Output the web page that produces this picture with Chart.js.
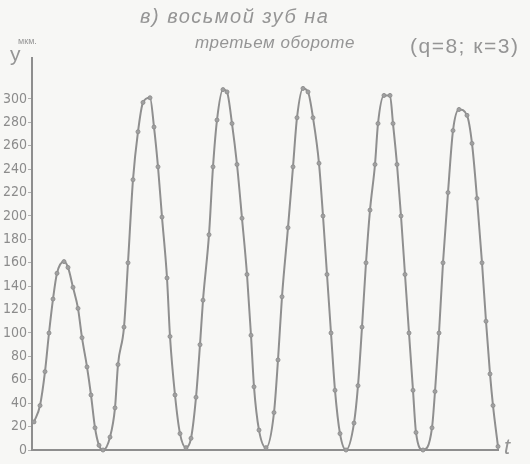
<!DOCTYPE html>
<html>
<head>
<meta charset="utf-8">
<script src="https://cdn.jsdelivr.net/npm/chart.js@4/dist/chart.umd.min.js"></script>
<style>
  body { margin: 0; background: #f7f7f5; }
  #wrap { position: relative; width: 530px; height: 464px; }
  .lbl { position: absolute; color: #959595; font-family: 'Liberation Sans', sans-serif; white-space: nowrap; }
  .hand { font-style: italic; }
</style>
</head>
<body>
<div id="wrap">
  <canvas id="toothChart" width="530" height="464"></canvas>
  <div class="lbl hand" style="left:140px; top:5px; font-size:20px; letter-spacing:1.5px;">в) восьмой зуб на</div>
  <div class="lbl hand" style="left:195px; top:33px; font-size:17px; letter-spacing:0.5px;">третьем обороте</div>
  <div class="lbl" style="left:410px; top:34px; font-size:21px; letter-spacing:1.5px;">(q=8; к=3)</div>
  <div class="lbl" style="left:18px; top:36px; font-size:9px;">мкм.</div>
  <div class="lbl" style="left:10px; top:42px; font-size:21px;">y</div>
  <div class="lbl" style="left:504px; top:434px; font-size:22px; font-style:italic;">t</div>
</div>
<script>
// tooth deviation over time
const tValues = [2, 8, 13, 17, 21, 25, 32, 36, 41, 46, 50, 55, 59, 63, 67, 71, 78, 83, 86, 92,
  96, 101, 106, 111, 118, 122, 126, 130, 135, 138, 143, 148, 154, 159, 164, 168, 171, 177, 181, 185,
  191, 195, 200, 205, 210, 215, 219, 222, 227, 234, 242, 246, 250, 256, 261, 265, 271, 276, 281, 287,
  291, 295, 299, 303, 308, 314, 322, 326, 330, 334, 338, 343, 346, 352, 358, 361, 365, 369, 373, 377,
  381, 384, 391, 400, 403, 407, 411, 416, 421, 427, 435, 440, 445, 450, 454, 458, 461, 466];
const yValues = [24, 38, 67, 100, 129, 151, 161, 156, 139, 121, 96, 71, 47, 19, 4, 0, 11, 36, 73, 105,
  160, 231, 272, 297, 301, 276, 242, 199, 147, 97, 47, 14, 2, 10, 45, 90, 128, 184, 242, 282,
  308, 306, 279, 244, 198, 150, 98, 54, 17, 2, 32, 77, 131, 190, 242, 284, 309, 306, 284, 245,
  200, 150, 100, 51, 14, 0, 23, 55, 105, 160, 205, 244, 279, 303, 303, 279, 244, 200, 150, 100,
  51, 15, 0, 19, 50, 100, 160, 220, 273, 291, 286, 262, 215, 160, 110, 65, 38, 3];
const yTicks = [0, 20, 40, 60, 80, 100, 120, 140, 160, 180, 200, 220, 240, 260, 280, 300];

const points = tValues.map((t, i) => ({ x: t, y: yValues[i] }));

const ctx = document.getElementById('toothChart').getContext('2d');
const toothChart = new Chart(ctx, {
  type: 'scatter',
  data: {
    datasets: [{
      data: points,
      showLine: true,
      borderColor: '#8f8f8f',
      borderWidth: 2,
      pointRadius: 2,
      pointBackgroundColor: '#a0a0a0',
      pointBorderColor: '#909090',
      pointBorderWidth: 1,
      cubicInterpolationMode: 'monotone',
      clip: false
    }]
  },
  options: {
    responsive: false,
    animation: false,
    layout: { padding: { top: 58, right: 32, bottom: 14, left: 0 } },
    plugins: { legend: { display: false }, tooltip: { enabled: false } },
    scales: {
      x: {
        type: 'linear',
        min: 0,
        max: 466,
        ticks: { display: false },
        grid: { display: false },
        border: { color: '#8e8e8e', width: 2 },
        afterFit: (scale) => { scale.height = 0; }
      },
      y: {
        min: 0,
        max: 335,
        afterBuildTicks: (scale) => { scale.ticks = yTicks.map(v => ({ value: v })); },
        ticks: {
          color: '#8c8c8c',
          padding: 1,
          font: { family: 'DejaVu Sans Condensed', size: 14 }
        },
        grid: { drawOnChartArea: false, drawTicks: true, tickLength: 4, color: '#b0b0b0' },
        border: { color: '#8e8e8e', width: 2 },
        afterFit: (scale) => { scale.width = 32; }
      }
    }
  }
});
</script>
</body>
</html>
